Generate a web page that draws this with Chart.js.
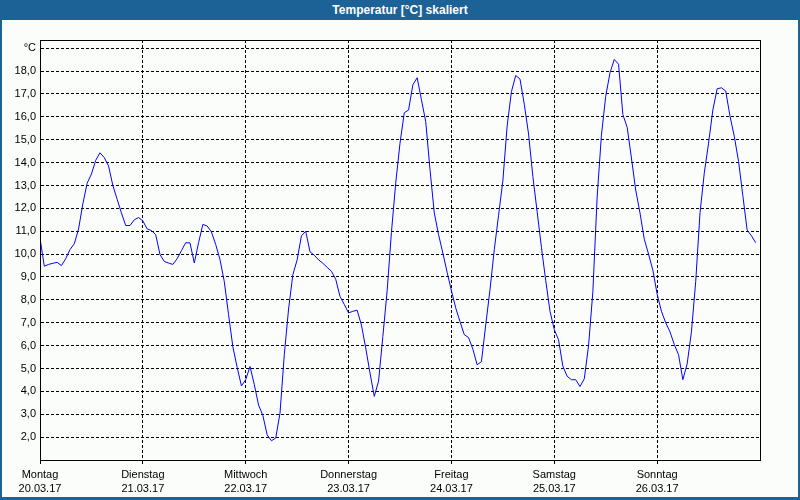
<!DOCTYPE html>
<html><head><meta charset="utf-8">
<script src="https://cdn.jsdelivr.net/npm/chart.js@4"></script>
<style>
html,body{margin:0;padding:0;background:#fbfdfb;}
#wrap{position:relative;width:800px;height:500px;background:#fbfdfb;overflow:hidden;}
#title{position:absolute;left:0;top:0;width:800px;height:20px;background:#1d6296;color:#fff;font:bold 12px "Liberation Sans",Arial,sans-serif;text-align:center;line-height:20px;}
#frame{position:absolute;left:0;top:0;width:800px;height:500px;box-sizing:border-box;border-left:2px solid #1d6296;border-right:2px solid #1d6296;border-bottom:3px solid #1d6296;pointer-events:none;}
canvas{position:absolute;left:0;top:0;}
</style></head>
<body><div id="wrap"><canvas id="c" width="800" height="500"></canvas><div id="title">Temperatur [°C] skaliert</div><div id="frame"></div></div>
<script>
// hourly temperatures (°C), starting Monday 20.03.17 00:00
const temps = [
 10.7, 9.47, 9.55, 9.6, 9.64, 9.5, 9.8, 10.2, 10.45, 11.1, 12.2, 13.1, 13.5, 14.1, 14.43, 14.22, 13.85, 13.0, 12.4, 11.8, 11.25, 11.25, 11.5, 11.6,
 11.45, 11.1, 11.03, 10.85, 9.98, 9.68, 9.61, 9.55, 9.8, 10.15, 10.5, 10.49, 9.61, 10.5, 11.3, 11.23, 10.97, 10.42, 9.76, 8.8, 7.35, 5.95, 5.05, 4.24,
 4.51, 5.09, 4.3, 3.4, 2.95, 2.1, 1.84, 1.96, 3.05, 5.6, 7.6, 9.1, 9.75, 10.8, 11.0, 10.1, 9.95, 9.75, 9.6, 9.42, 9.25, 8.9, 8.15, 7.8,
 7.43, 7.5, 7.55, 6.9, 5.9, 4.8, 3.78, 4.45, 6.4, 8.4, 10.95, 13.1, 14.85, 16.18, 16.3, 17.4, 17.71, 16.75, 15.8, 13.7, 11.8, 10.85, 10.05, 9.2,
 8.4, 7.65, 7.05, 6.48, 6.35, 5.85, 5.16, 5.3, 6.9, 8.45, 10.2, 11.7, 13.2, 15.6, 17.1, 17.81, 17.65, 16.55, 15.25, 13.4, 11.85, 10.3, 8.85, 7.5,
 6.7, 6.25, 5.1, 4.66, 4.51, 4.51, 4.21, 4.55, 6.0, 8.35, 12.5, 15.2, 16.9, 17.93, 18.51, 18.3, 16.1, 15.55, 14.2, 12.8, 11.8, 10.65, 10.0, 9.3,
 8.25, 7.5, 7.0, 6.6, 6.05, 5.6, 4.51, 5.2, 6.6, 8.8, 11.8, 13.55, 14.85, 16.3, 17.23, 17.27, 17.13, 16.03, 15.15, 14.05, 12.55, 11.05, 10.8, 10.5
];
const stepHours = 1;
const dayTickHours = [0, 24, 48, 72, 96, 120, 144];
const dayNames = ['Montag', 'Dienstag', 'Mittwoch', 'Donnerstag', 'Freitag', 'Samstag', 'Sonntag'];
const dayDates = ['20.03.17', '21.03.17', '22.03.17', '23.03.17', '24.03.17', '25.03.17', '26.03.17'];
const yTickValues = [2, 3, 4, 5, 6, 7, 8, 9, 10, 11, 12, 13, 14, 15, 16, 17, 18];
const unitTickValue = 19;
const unitLabel = '°C';

const FONT = '"Liberation Sans", Arial, sans-serif';

const framePlugin = {
  id: 'frame',
  afterDraw(chart) {
    const a = chart.chartArea, c = chart.ctx;
    c.save();
    c.strokeStyle = '#000';
    c.lineWidth = 1;
    c.strokeRect(Math.round(a.left) + 0.5, Math.round(a.top) + 0.5, Math.round(a.right - a.left), Math.round(a.bottom - a.top));
    c.restore();
  }
};

new Chart(document.getElementById('c'), {
  type: 'line',
  data: {
    datasets: [{
      data: temps.map((v, i) => ({ x: i * stepHours, y: v })),
      borderColor: '#0000ff', borderWidth: 1, pointRadius: 0, tension: 0, fill: false
    }]
  },
  options: {
    responsive: false, animation: false, devicePixelRatio: 1,
    layout: { padding: { left: 0, top: 40, right: 40, bottom: 0 } },
    plugins: { legend: { display: false }, tooltip: { enabled: false }, title: { display: false } },
    scales: {
      x: {
        type: 'linear', min: 0, max: 168,
        afterBuildTicks: s => { s.ticks = dayTickHours.map(v => ({ value: v })); },
        afterFit: s => { s.height = 40; },
        ticks: {
          autoSkip: false, maxRotation: 0, color: '#000', padding: 4,
          font: { family: FONT, size: 11, lineHeight: 1.27 },
          callback: v => { const i = dayTickHours.indexOf(v); return i < 0 ? '' : [dayNames[i], dayDates[i]]; }
        },
        grid: { color: '#000', lineWidth: 1, tickLength: 4, drawTicks: true },
        border: { display: true, color: '#000', width: 1, dash: [3, 2] }
      },
      y: {
        min: 1, max: 19.36,
        afterBuildTicks: s => { s.ticks = yTickValues.concat([unitTickValue]).map(v => ({ value: v })); },
        afterFit: s => { s.width = 40; },
        ticks: {
          color: '#000', padding: 4,
          font: { family: FONT, size: 11 },
          callback: v => v === unitTickValue ? unitLabel : v.toFixed(1).replace('.', ',')
        },
        grid: { color: '#000', lineWidth: 1, drawTicks: false },
        border: { display: true, color: '#000', width: 1, dash: [3, 2] }
      }
    }
  },
  plugins: [framePlugin]
});
</script>
</body></html>
